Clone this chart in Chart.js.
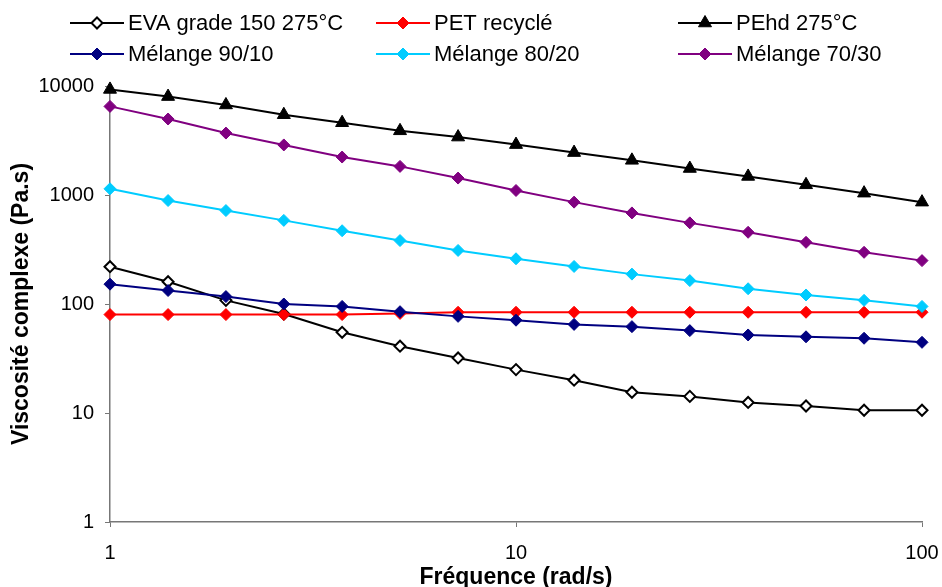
<!DOCTYPE html>
<html lang="fr">
<head>
<meta charset="utf-8">
<title>Viscosité complexe</title>
<script src="https://cdn.jsdelivr.net/npm/chart.js"></script>
<style>
  html, body { margin: 0; padding: 0; background: #fff; }
  #graphe { display: block; }
</style>
</head>
<body>
<canvas id="graphe" width="942" height="587"></canvas>
<script>
// fréquences (rad/s)
const frequences = [1, 1.39, 1.93, 2.68, 3.73, 5.18, 7.2, 10, 13.9, 19.3, 26.8, 37.3, 51.8, 72, 100];

// viscosité complexe (Pa.s)
const eva = [220, 160, 108, 81, 55, 41, 32, 25, 20, 15.5, 14.2, 12.5, 11.6, 10.6, 10.6];
const pet = [80, 80, 80, 80, 80, 82, 84, 84, 84, 84, 84, 84, 84, 84, 84];
const pehd = [9300, 8000, 6700, 5450, 4600, 3880, 3400, 2900, 2450, 2080, 1750, 1480, 1240, 1040, 860];
const melange9010 = [152, 133, 117, 100, 95, 85, 77, 71, 65, 62, 57, 52, 50, 48.5, 44.5];
const melange8020 = [1140, 890, 720, 585, 470, 382, 310, 260, 221, 188, 164, 138, 121, 108, 95];
const melange7030 = [6500, 4980, 3700, 2880, 2230, 1830, 1430, 1100, 860, 685, 555, 455, 368, 298, 250];

const ticksX = [1, 10, 100];
const ticksY = [1, 10, 100, 1000, 10000];

const series = [
    { label: 'EVA grade 150 275°C', valeurs: eva, couleur: '#000000', fond: '#ffffff', forme: 'rectRot' },
    { label: 'PET recyclé', valeurs: pet, couleur: '#ff0000', fond: '#ff0000', forme: 'rectRot' },
    { label: 'PEhd 275°C', valeurs: pehd, couleur: '#000000', fond: '#000000', forme: 'triangle' },
    { label: 'Mélange 90/10', valeurs: melange9010, couleur: '#000080', fond: '#000080', forme: 'rectRot' },
    { label: 'Mélange 80/20', valeurs: melange8020, couleur: '#00ccff', fond: '#00ccff', forme: 'rectRot' },
    { label: 'Mélange 70/30', valeurs: melange7030, couleur: '#800080', fond: '#800080', forme: 'rectRot' }
];

Chart.defaults.font.family = '"Liberation Sans", Arial, sans-serif';
Chart.defaults.color = '#000';

const datasets = series.map(function (s, i) {
    const creux = s.fond === '#ffffff';
    return {
        label: s.label,
        data: frequences.map((f, j) => ({ x: f, y: s.valeurs[j] })),
        borderColor: s.couleur,
        backgroundColor: s.fond,
        pointBackgroundColor: s.fond,
        pointBorderColor: s.couleur,
        pointStyle: s.forme,
        pointRadius: s.forme === 'triangle' ? 7.5 : (creux ? 5.5 : 6),
        pointBorderWidth: creux ? 2 : 1,
        borderWidth: 2,
        tension: 0,
        clip: false,
        order: series.length - i
    };
});

// légende sur deux lignes, trois colonnes, façon Excel
const legendeExcel = {
    id: 'legendeExcel',
    afterDraw(chart) {
        const ctx = chart.ctx;
        const colonnes = [70, 376, 678];
        const lignes = [23, 54];
        ctx.save();
        chart.data.datasets.forEach(function (ds, i) {
            const x = colonnes[i % 3];
            const y = lignes[Math.floor(i / 3)];
            ctx.strokeStyle = ds.borderColor;
            ctx.lineWidth = 2;
            ctx.beginPath();
            ctx.moveTo(x, y);
            ctx.lineTo(x + 54, y);
            ctx.stroke();
            ctx.fillStyle = ds.pointBackgroundColor;
            ctx.strokeStyle = ds.pointBorderColor;
            ctx.lineWidth = ds.pointBorderWidth;
            Chart.helpers.drawPoint(ctx, {
                pointStyle: ds.pointStyle,
                radius: ds.pointRadius,
                rotation: 0,
                borderWidth: ds.pointBorderWidth
            }, x + 27, y);
            ctx.fillStyle = '#000';
            ctx.font = '22px "Liberation Sans", Arial, sans-serif';
            ctx.textAlign = 'left';
            ctx.textBaseline = 'middle';
            ctx.fillText(ds.label, x + 58, y + 1);
        });
        ctx.restore();
    }
};

new Chart(document.getElementById('graphe'), {
    type: 'line',
    data: { datasets: datasets },
    options: {
        responsive: false,
        animation: false,
        layout: { padding: { top: 86, right: 20, left: 0, bottom: 0 } },
        plugins: {
            legend: { display: false },
            tooltip: { enabled: false }
        },
        scales: {
            x: {
                type: 'logarithmic',
                min: 1,
                max: 100,
                afterBuildTicks: function (scale) {
                    scale.ticks = ticksX.map(v => ({ value: v }));
                },
                afterFit: function (scale) {
                    scale.height = 65;
                    scale.paddingLeft = 0;
                    scale.paddingRight = 0;
                },
                grid: { drawOnChartArea: false, drawTicks: true, tickLength: 5, color: '#777' },
                border: { color: '#777', width: 1.5 },
                ticks: {
                    font: { size: 20 },
                    padding: 14,
                    maxRotation: 0,
                    callback: v => String(v)
                },
                title: {
                    display: true,
                    text: 'Fréquence (rad/s)',
                    font: { size: 23, weight: 'bold' },
                    padding: { top: 0, bottom: -4 }
                }
            },
            y: {
                type: 'logarithmic',
                min: 1,
                max: 10000,
                afterBuildTicks: function (scale) {
                    scale.ticks = ticksY.map(v => ({ value: v }));
                },
                afterFit: function (scale) { scale.width = 110; },
                grid: { drawOnChartArea: false, drawTicks: true, tickLength: 5, color: '#777' },
                border: { color: '#777', width: 1.5 },
                ticks: {
                    font: { size: 20 },
                    padding: 11,
                    callback: v => String(v)
                },
                title: {
                    display: true,
                    text: 'Viscosité complexe (Pa.s)',
                    font: { size: 23, weight: 'bold' },
                    padding: { top: 8, bottom: 0 }
                }
            }
        }
    },
    plugins: [legendeExcel]
});
</script>
</body>
</html>
